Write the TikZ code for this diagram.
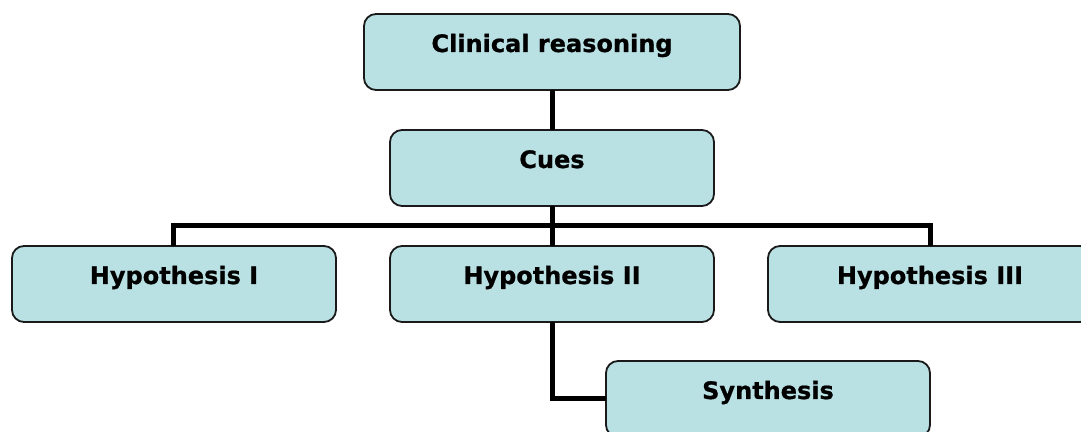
\documentclass[tikz,border=0pt]{standalone}
\usepackage{fontspec}
\setmainfont{DejaVu Sans}[BoldFeatures={FakeBold=0.8}]
\usepackage{xcolor}
\definecolor{boxfill}{HTML}{B9E0E3}
\definecolor{boxline}{HTML}{1A1A1A}
\usepackage{tikz}
\usetikzlibrary{positioning}
\tikzset{
  stage/.style = {rectangle, rounded corners=6pt, draw=boxline, line width=0.9pt,
                  fill=boxfill, minimum height=38pt, minimum width=162pt,
                  inner sep=0pt, outer sep=0pt, text height=8pt, text depth=8pt,
                  font=\fontsize{12}{14}\selectfont\bfseries},
  link/.style  = {line width=2.5pt, draw=black}
}

\begin{document}
\begin{tikzpicture}[node distance=20pt and 27pt]
  \useasboundingbox (-276pt,26pt) rectangle (264.5pt,-190pt);
  \node[stage, minimum width=188pt] (root) at (0,0) {Clinical reasoning};
  \node[stage, below=of root] (cues) {Cues};
  \node[stage, below=of cues] (h2) {Hypothesis II};
  \node[stage, left=of h2] (h1) {Hypothesis I};
  \node[stage, right=of h2] (h3) {Hypothesis III};
  \node[stage, below right=19.5pt and 27pt of h2.south] (syn) {Synthesis};
  \coordinate[below=10pt of cues.south] (bus);
  \draw[link] (root) -- (cues);
  \draw[link] (cues) -- (h2);
  \draw[link] (h1.north) |- (bus) -| (h3.north);
  \draw[link] (h2) |- (syn);
\end{tikzpicture}
\end{document}
